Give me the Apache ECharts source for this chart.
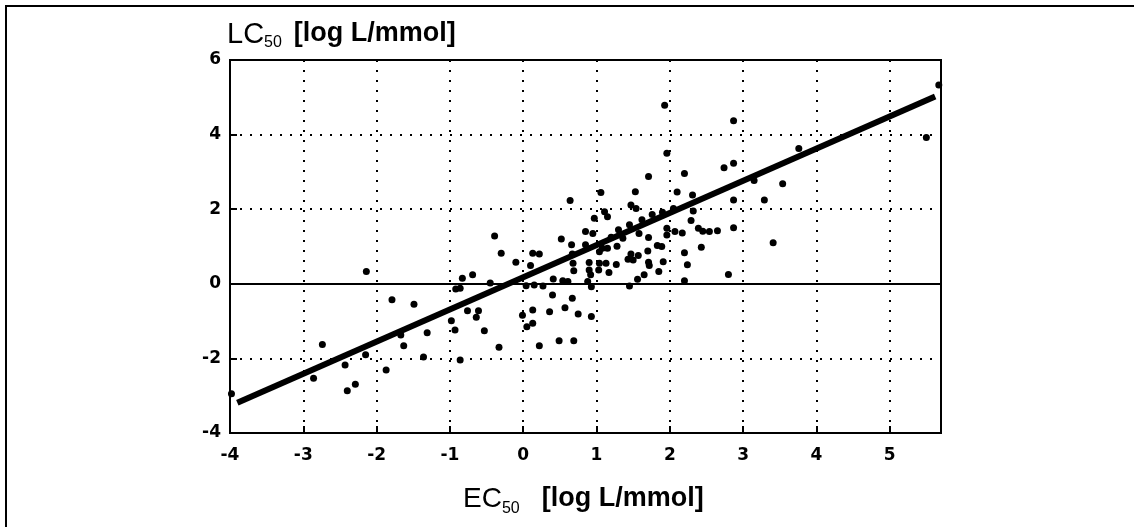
<!DOCTYPE html>
<html>
<head>
<meta charset="utf-8">
<title>LC50 vs EC50</title>
<script src="https://cdn.jsdelivr.net/npm/echarts@6/dist/echarts.min.js"></script>
<style>
    html, body { margin: 0; padding: 0; background: #fff; }
    #chart_lcec { width: 1134px; height: 527px; }
</style>
</head>
<body>
<div id="chart_lcec"></div>
<script>
/*EC50 of each compound [log L/mmol]*/
var ecValues = [
    -3.98, -2.86, -2.74, -2.43, -2.40, -2.29, -2.15, -2.14, -1.87, -1.79,
    -1.67, -1.63, -1.49, -1.36, -1.31, -0.98, -0.93, -0.92, -0.86, -0.86,
    -0.83, -0.69, -0.76, -0.61, -0.64, -0.53, -0.39, -0.33, -0.30, -0.45,
    -0.10, 0.13, 0.22, 0.10, 0.04, 0.15, 0.27, 0.41, 0.54, 0.61,
    0.40, 0.67, 0.13, -0.01, 0.13, 0.05, 0.36, 0.57, 0.75, 0.93,
    0.22, 0.49, 0.69, 0.52, 0.66, 0.67, 0.68, 0.69, 0.85, 0.95,
    0.90, 0.90, 0.92, 0.93, 0.88, 1.04, 1.13, 1.03, 1.17, 1.04,
    1.08, 1.15, 1.27, 1.28, 1.36, 1.43, 1.47, 1.50, 1.57, 1.70,
    1.71, 1.72, 1.83, 1.89, 1.91, 1.85, 1.96, 1.96, 1.71, 2.07,
    2.17, 2.20, 2.24, 2.20, 2.29, 2.39, 2.45, 2.54, 2.65, 2.87,
    2.43, 2.80, 1.45, 1.56, 1.65, 1.11, 1.15, 0.97, 1.47, 1.54,
    2.32, 2.31, 0.64, 1.06, 1.53, 2.10, 2.87, 1.71, 2.20, 2.74,
    2.87, 1.93, 2.87, 1.96, 3.15, 3.29, 3.41, 3.54, 3.76, 5.50,
    5.67, 1.58, 0.85, 1.20, 1.30, 1.45, 1.62, 1.76, 1.90, 2.05
];
/*LC50 of each compound [log L/mmol]*/
var lcValues = [
    -2.95, -2.53, -1.63, -2.18, -2.87, -2.69, -1.90, 0.33, -2.31, -0.43,
    -1.37, -1.66, -0.55, -1.96, -1.31, -0.99, -1.24, -0.14, -0.12, -2.04,
    0.15, 0.24, -0.72, -0.72, -0.90, -1.26, 1.28, -1.70, 0.82, 0.02,
    0.58, 0.82, 0.80, 0.49, -0.05, -0.03, -0.06, 0.13, 0.08, 0.06,
    -0.30, -0.39, -0.70, -0.84, -1.06, -1.15, -0.75, -0.64, -0.81, -0.88,
    -1.66, -1.53, -1.53, 1.20, 1.05, 0.80, 0.55, 0.35, 1.40, 1.35,
    0.57, 0.37, 0.24, -0.08, 0.06, 0.55, 0.55, 0.37, 0.30, 0.86,
    0.95, 0.95, 0.52, 1.01, 1.22, 0.66, 0.80, 0.64, 0.76, 0.88,
    0.58, 0.49, 1.03, 1.00, 0.59, 0.33, 1.31, 1.49, 1.24, 1.40,
    1.36, 0.83, 0.51, 0.08, 1.70, 1.49, 1.41, 1.40, 1.42, 1.50,
    0.98, 0.25, -0.06, 0.12, 0.24, 1.93, 1.80, 1.76, 2.11, 2.02,
    1.95, 2.38, 2.23, 2.45, 2.47, 2.46, 2.25, 2.88, 2.96, 3.11,
    3.23, 4.79, 4.37, 3.50, 2.77, 2.25, 1.10, 2.68, 3.63, 3.92,
    5.33, 1.35, 1.05, 1.25, 1.45, 1.58, 1.72, 1.86, 1.92, 2.02
];
/*regression line end points*/
var fitX = [-3.9, 5.62];
var fitY = [-3.19, 5.02];
/*tick settings*/
var xTicks = { min: -4, max: 5.7, step: 1 };
var yTicks = { min: -4, max: 6, step: 2 };

var chart_lcec = null;

initChart();

function buildPairs(xs, ys) {
    var arr = [];
    for (var i = 0; i < xs.length; i++) {
        arr.push([xs[i], ys[i]]);
    }
    return arr;
}

function initChart() {
    chart_lcec = echarts.init(document.getElementById('chart_lcec'), null, { renderer: 'canvas' });

    var tickLabel = {
        color: '#000',
        fontFamily: 'DejaVu Sans',
        fontWeight: 'bold',
        fontSize: 17
    };

    var option = {
        animation: false,
        backgroundColor: '#fff',
        grid: {
            left: 230,
            right: 193,
            top: 60,
            bottom: 94,
            show: true,
            borderColor: '#000',
            borderWidth: 2,
            backgroundColor: 'transparent'
        },
        xAxis: {
            type: 'value',
            min: xTicks.min,
            max: xTicks.max,
            interval: xTicks.step,
            axisLine: { show: true, onZero: false, lineStyle: { color: '#000', width: 2 } },
            axisTick: { show: true, inside: true, length: 7, lineStyle: { color: '#000', width: 2 } },
            axisLabel: {
                color: tickLabel.color,
                fontFamily: tickLabel.fontFamily,
                fontWeight: tickLabel.fontWeight,
                fontSize: tickLabel.fontSize,
                margin: 14,
                showMaxLabel: false,
                formatter: function (v) {
                    return Math.round(v) === v ? String(v) : '';
                }
            },
            splitLine: { show: true, lineStyle: { color: '#000', type: [2, 8], width: 2 } }
        },
        yAxis: {
            type: 'value',
            min: yTicks.min,
            max: yTicks.max,
            interval: yTicks.step,
            axisLine: { show: true, onZero: false, lineStyle: { color: '#000', width: 2 } },
            axisTick: { show: true, inside: true, length: 7, lineStyle: { color: '#000', width: 2 } },
            axisLabel: {
                color: tickLabel.color,
                fontFamily: tickLabel.fontFamily,
                fontWeight: tickLabel.fontWeight,
                fontSize: tickLabel.fontSize,
                margin: 9,
                padding: [8, 0, 0, 0]
            },
            splitLine: { show: true, lineStyle: { color: '#000', type: [2, 8], width: 2 } }
        },
        graphic: [
            {
                /*outer frame of the figure*/
                type: 'rect',
                silent: true,
                z: -1,
                shape: { x: 6, y: 6, width: 1200, height: 600 },
                style: { fill: 'transparent', stroke: '#000', lineWidth: 2 }
            },
            {
                type: 'text',
                left: 227,
                top: 20,
                silent: true,
                style: {
                    text: '{a|LC}{s|50}{b|[log L/mmol]}',
                    fill: '#000',
                    rich: {
                        a: { fontFamily: 'Liberation Sans', fontSize: 29, lineHeight: 30, verticalAlign: 'top', fill: '#000' },
                        s: { fontFamily: 'Liberation Sans', fontSize: 16, lineHeight: 16, verticalAlign: 'top', padding: [15, 12, 0, 0], fill: '#000' },
                        b: { fontFamily: 'Liberation Sans', fontWeight: 'bold', fontSize: 27, lineHeight: 30, verticalAlign: 'top', fill: '#000' }
                    }
                }
            },
            {
                type: 'text',
                left: 463,
                top: 485,
                silent: true,
                style: {
                    text: '{a|EC}{s|50}{b|[log L/mmol]}',
                    fill: '#000',
                    rich: {
                        a: { fontFamily: 'Liberation Sans', fontSize: 28, lineHeight: 30, verticalAlign: 'top', fill: '#000' },
                        s: { fontFamily: 'Liberation Sans', fontSize: 16, lineHeight: 16, verticalAlign: 'top', padding: [16, 22, 0, 0], fill: '#000' },
                        b: { fontFamily: 'Liberation Sans', fontWeight: 'bold', fontSize: 27, lineHeight: 30, verticalAlign: 'top', fill: '#000' }
                    }
                }
            }
        ],
        series: [
            {
                name: 'compounds',
                type: 'scatter',
                symbol: 'circle',
                symbolSize: 7,
                itemStyle: { color: '#000', opacity: 1 },
                data: buildPairs(ecValues, lcValues),
                markLine: {
                    silent: true,
                    symbol: ['none', 'none'],
                    label: { show: false },
                    lineStyle: { color: '#000', type: 'solid', width: 2 },
                    data: [{ yAxis: 0 }]
                }
            },
            {
                name: 'fit',
                type: 'line',
                symbol: 'none',
                lineStyle: { color: '#000', width: 6, cap: 'butt' },
                data: buildPairs(fitX, fitY)
            }
        ]
    };

    chart_lcec.setOption(option);
}
</script>
</body>
</html>
